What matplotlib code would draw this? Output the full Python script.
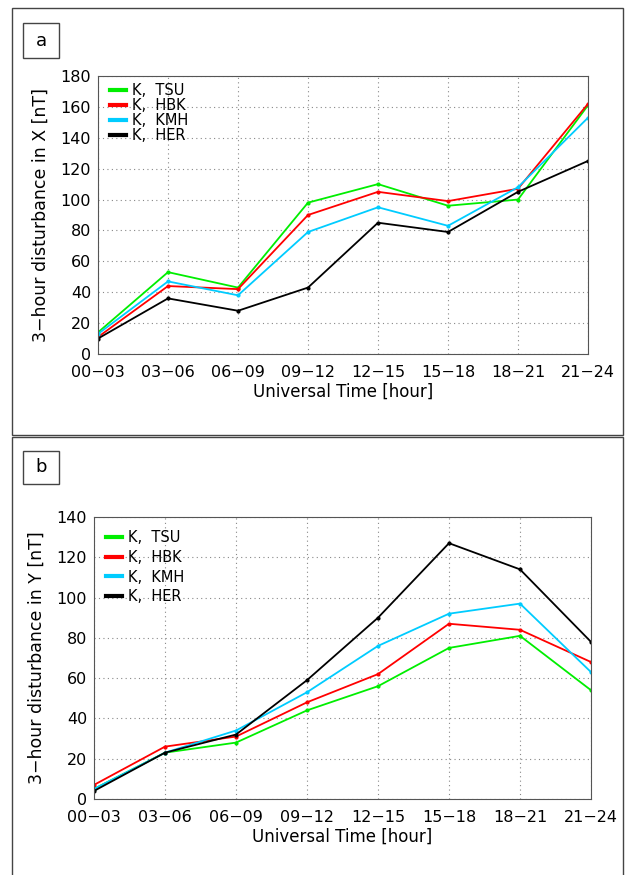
import matplotlib
matplotlib.use('Agg')
import matplotlib.pyplot as plt
from matplotlib.patches import Rectangle

plt.rcParams['font.family'] = ['DejaVu Sans']

slots = ['00\u221203', '03\u221206', '06\u221209', '09\u221212',
         '12\u221215', '15\u221218', '18\u221221', '21\u221224']
stations = ['K,  TSU', 'K,  HBK', 'K,  KMH', 'K,  HER']
colors = ['#00ee00', '#ff0000', '#00ccff', '#000000']

# 3-hour disturbance in X [nT]
x_tsu = [14, 53, 43, 98, 110, 96, 100, 161]
x_hbk = [11, 44, 42, 90, 105, 99, 107, 162]
x_kmh = [13, 47, 38, 79, 95, 83, 108, 153]
x_her = [10, 36, 28, 43, 85, 79, 105, 125]

# 3-hour disturbance in Y [nT]
y_tsu = [5, 23, 28, 44, 56, 75, 81, 54]
y_hbk = [7, 26, 31, 48, 62, 87, 84, 68]
y_kmh = [5, 23, 34, 53, 76, 92, 97, 63]
y_her = [4, 23, 32, 59, 90, 127, 114, 78]

W, H = 629, 875
fig = plt.figure(figsize=(W / 100, H / 100), dpi=100)

def px(l, t, r, b):
    return [l / W, 1 - b / H, (r - l) / W, (b - t) / H]

# outer panel frames
for (l, t, r, b) in [(12, 8, 623, 435), (12, 437, 623, 880)]:
    fig.add_artist(Rectangle((l / W, 1 - b / H), (r - l) / W, (b - t) / H,
                             transform=fig.transFigure, fill=False,
                             edgecolor='#444444', linewidth=1.0))

def panel(rect, series, ymax, ylabel, tag, tagbox, legspace, leg_y):
    ax = fig.add_axes(rect)
    xs = range(len(slots))
    for vals, name, c in zip(series, stations, colors):
        ax.plot(xs, vals, color=c, lw=1.3, marker='o', ms=2, label=name)
    ax.set_xlim(0, len(slots) - 1)
    ax.set_ylim(0, ymax)
    ax.set_yticks(range(0, ymax + 1, 20))
    ax.set_xticks(list(xs))
    ax.set_xticklabels(slots)
    ax.grid(True, linestyle=(0, (1, 3)), color='#888888', lw=0.8)
    ax.tick_params(length=0, labelsize=11.5)
    ax.tick_params(axis='x', pad=8)
    ax.tick_params(axis='y', pad=5)
    for s in ax.spines.values():
        s.set_color('#555555')
    ax.set_xlabel('Universal Time [hour]', fontsize=12, labelpad=2)
    ax.set_ylabel(ylabel, fontsize=12.5, labelpad=8)
    leg = ax.legend(loc='upper left', bbox_to_anchor=(0.012, leg_y),
                    frameon=False, fontsize=10.5,
                    handlelength=1.1, handletextpad=0.4,
                    labelspacing=legspace, borderaxespad=0)
    for h in leg.legend_handles:
        h.set_linewidth(3)
        h.set_marker('')
    l, t, r, b = tagbox
    fig.add_artist(Rectangle((l / W, 1 - b / H), (r - l) / W, (b - t) / H,
                             transform=fig.transFigure, fill=False,
                             edgecolor='#444444', linewidth=1.0))
    fig.text((l + r) / 2 / W, 1 - (t + b) / 2 / H, tag, ha='center',
             va='center', fontsize=13)
    return ax

panel(px(98, 76, 588, 354), [x_tsu, x_hbk, x_kmh, x_her], 180,
      '3\u2212hour disturbance in X [nT]', 'a', (23, 23, 59, 58), 0.0, 0.997)
panel(px(94, 517, 591, 799), [y_tsu, y_hbk, y_kmh, y_her], 140,
      '3\u2212hour disturbance in Y [nT]', 'b', (23, 451, 59, 484), 0.33, 0.975)

fig.savefig('out.png', dpi=100)
